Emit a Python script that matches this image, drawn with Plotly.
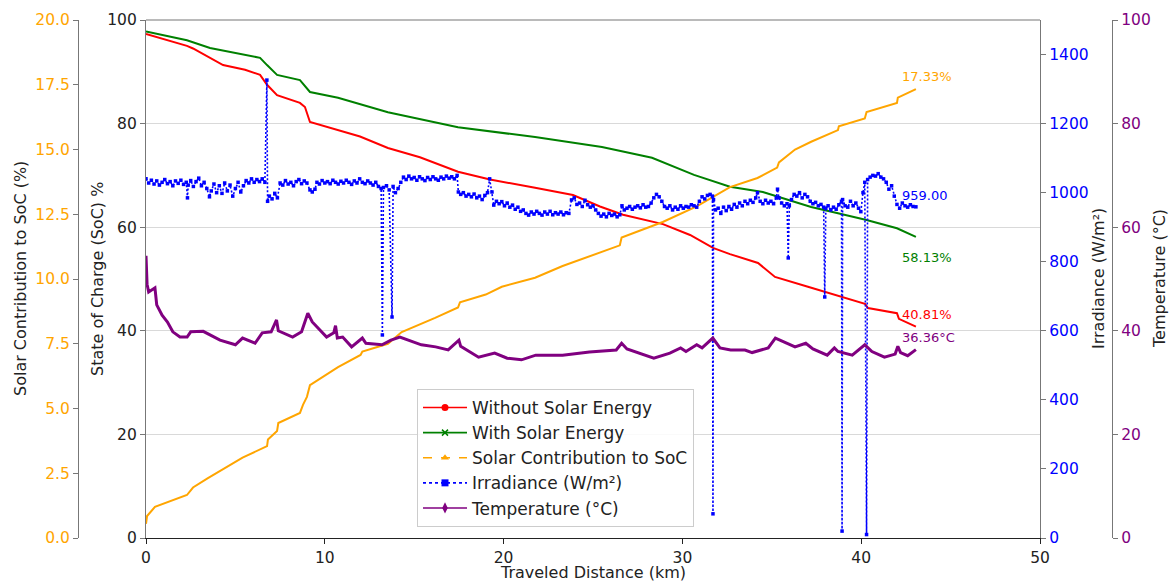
import plotly.graph_objects as go

# ---------------- data ----------------
red_km = [0, 2.29, 2.63, 4.31, 5.54, 6.38, 6.77, 7.33, 8.61, 8.89, 9.17, 10.74, 11.97, 13.53,
          15.32, 17.45, 19.24, 21.76, 23.88, 25.39, 26.68, 28.91, 30.43, 31.71, 32.66, 34.23,
          35.18, 37.02, 38.93, 40.21, 40.38, 42.0, 42.11, 43.06]
without_solar = [97.3, 95.0, 94.5, 91.3, 90.4, 89.4, 87.5, 85.5, 84.0, 83.2, 80.3, 78.8, 77.5, 75.3,
                 73.5, 70.7, 69.2, 67.6, 66.2, 64.0, 62.4, 60.6, 58.5, 56.0, 54.8, 53.1,
                 50.4, 48.5, 46.5, 45.2, 44.4, 43.4, 42.3, 40.81]

green_km = [0, 2.29, 3.58, 5.1, 6.38, 6.77, 7.33, 8.61, 9.17, 10.74, 13.53, 17.45, 21.76, 25.5,
            28.3, 30.65, 32.66, 34.5, 37.2, 38.7, 40.3, 42.0, 43.06]
with_solar = [97.8, 96.1, 94.6, 93.6, 92.7, 91.3, 89.4, 88.4, 86.1, 85.0, 82.2, 79.3, 77.4, 75.5,
              73.4, 70.1, 67.8, 66.8, 63.9, 62.7, 61.4, 59.8, 58.13]

solar_km = [0, 0.06, 0.5, 2.29, 2.63, 3.44, 5.4, 6.38, 6.77, 6.82, 7.33, 7.4, 8.61, 8.78, 9.0,
            9.17, 10.74, 12.0, 12.1, 13.53, 14.3, 16.17, 17.45, 17.56, 19.0, 19.9, 21.76, 23.3,
            26.5, 26.6, 28.9, 30.8, 32.66, 34.2, 35.3, 35.4, 36.3, 37.2, 38.7, 38.75, 40.2,
            40.3, 42.0, 42.05, 43.06]
solar_contrib = [0.55, 0.85, 1.2, 1.66, 1.95, 2.3, 3.1, 3.4, 3.55, 3.8, 4.13, 4.44, 4.83, 5.14, 5.45,
                 5.9, 6.6, 7.07, 7.2, 7.5, 7.95, 8.5, 8.9, 9.1, 9.4, 9.7, 10.05, 10.5,
                 11.3, 11.6, 12.2, 12.8, 13.55, 13.9, 14.3, 14.5, 15.0, 15.3, 15.75, 15.9, 16.2,
                 16.45, 16.8, 17.0, 17.33]

temp_km = [0, 0.06, 0.15, 0.5, 0.6, 0.9, 1.2, 1.5, 1.9, 2.3, 2.5, 3.2, 4.14, 5.0, 5.4, 6.1, 6.5,
           7.0, 7.3, 7.4, 8.2, 8.7, 9.05, 9.3, 10.1, 10.5, 10.6, 10.7, 11.0, 11.5, 12.1, 12.3,
           13.2, 13.7, 14.2, 15.4, 16.2, 16.9, 17.5, 17.6, 18.6, 19.5, 20.2, 21.0, 21.8, 23.3,
           24.8, 26.3, 26.6, 26.9, 28.4, 29.3, 29.9, 30.2, 30.8, 31.1, 31.7, 32.1, 32.7, 33.5,
           33.9, 34.8, 35.2, 36.3, 36.9, 37.3, 38.1, 38.5, 38.7, 39.5, 40.2, 40.6, 41.3, 41.9,
           42.05, 42.2, 42.6, 43.06]
temperature = [54.5, 49.0, 47.5, 48.3, 45.0, 43.0, 41.7, 39.8, 38.8, 38.8, 39.8, 39.9, 38.2, 37.3,
               38.6, 37.6, 39.6, 39.8, 42.1, 40.0, 38.8, 39.8, 43.4, 41.7, 38.8, 39.6, 41.0, 38.6,
               38.8, 36.9, 38.6, 37.6, 37.3, 38.2, 38.8, 37.3, 36.9, 36.3, 38.2, 37.0, 34.9, 35.7,
               34.7, 34.4, 35.3, 35.3, 35.9, 36.3, 37.6, 36.5, 34.7, 35.7, 36.7, 36.0, 37.3, 36.7,
               38.6, 36.7, 36.3, 36.3, 35.8, 36.7, 38.6, 36.9, 37.6, 36.5, 35.3, 36.7, 36.0, 35.3,
               37.3, 36.0, 34.9, 35.5, 37.0, 35.8, 35.2, 36.36]

irr_km = [0.00, 0.15, 0.30, 0.45, 0.60, 0.75, 0.90, 1.05, 1.20, 1.35, 1.50, 1.65, 1.80, 1.95, 2.10,
          2.25, 2.32, 2.36, 2.50, 2.65, 2.80, 2.95, 3.10, 3.25, 3.40, 3.55, 3.65, 3.80, 3.95, 4.10,
          4.25, 4.40, 4.55, 4.70, 4.85, 5.00, 5.15, 5.30, 5.45, 5.60, 5.75, 5.90, 6.05, 6.20, 6.35,
          6.50, 6.65, 6.76, 6.80, 6.90, 7.05, 7.20, 7.35, 7.50, 7.65, 7.80, 7.95, 8.10, 8.25, 8.40,
          8.55, 8.70, 8.85, 9.00, 9.17, 9.30, 9.45, 9.56, 9.70, 9.85, 10.00, 10.15, 10.30, 10.45,
          10.60, 10.75, 10.90, 11.05, 11.20, 11.35, 11.50, 11.65, 11.80, 11.95, 12.10, 12.25,
          12.40, 12.55, 12.70, 12.85, 13.00, 13.15, 13.22, 13.28, 13.45, 13.60, 13.76, 13.82,
          13.95, 14.10, 14.25, 14.40, 14.55, 14.70, 14.85, 15.00, 15.15, 15.30, 15.45, 15.60,
          15.75, 15.90, 16.05, 16.20, 16.35, 16.50, 16.65, 16.80, 16.95, 17.10, 17.25, 17.40,
          17.47, 17.60, 17.75, 17.90, 18.05, 18.20, 18.35, 18.50, 18.65, 18.80, 18.95, 19.10,
          19.22, 19.35, 19.45, 19.60, 19.75, 19.90, 20.05, 20.20, 20.35, 20.50, 20.65, 20.80,
          20.95, 21.10, 21.25, 21.40, 21.55, 21.70, 21.85, 22.00, 22.15, 22.30, 22.45, 22.60,
          22.75, 22.90, 23.05, 23.20, 23.35, 23.50, 23.65, 23.80, 23.95, 24.10, 24.25, 24.40,
          24.55, 24.70, 24.85, 25.00, 25.15, 25.30, 25.45, 25.60, 25.75, 25.90, 26.05, 26.20,
          26.35, 26.50, 26.62, 26.75, 26.90, 27.05, 27.20, 27.35, 27.50, 27.65, 27.80, 27.95,
          28.10, 28.25, 28.40, 28.55, 28.70, 28.85, 29.00, 29.15, 29.30, 29.45, 29.60, 29.75,
          29.90, 30.05, 30.20, 30.35, 30.50, 30.65, 30.80, 30.95, 31.10, 31.25, 31.40, 31.55,
          31.68, 31.71, 31.74, 31.85, 32.00, 32.15, 32.30, 32.45, 32.60, 32.75, 32.90, 33.05,
          33.20, 33.35, 33.50, 33.65, 33.80, 33.95, 34.10, 34.20, 34.35, 34.50, 34.65, 34.80,
          34.95, 35.10, 35.25, 35.32, 35.40, 35.55, 35.70, 35.85, 35.92, 35.98, 36.10, 36.25,
          36.40, 36.55, 36.70, 36.85, 37.00, 37.15, 37.30, 37.45, 37.60, 37.75, 37.90, 37.96,
          38.02, 38.15, 38.30, 38.45, 38.60, 38.75, 38.90, 38.93, 38.96, 39.10, 39.25, 39.40,
          39.55, 39.70, 39.85, 39.98, 40.10, 40.20, 40.30, 40.36, 40.50, 40.65, 40.80, 40.95,
          41.10, 41.25, 41.40, 41.55, 41.70, 41.85, 42.00, 42.15, 42.30, 42.45, 42.60, 42.75,
          42.90, 43.06]
irradiance = [1040, 1028, 1036, 1025, 1034, 1022, 1030, 1038, 1026, 1032, 1020, 1034, 1027, 1036, 1024,
              1030, 985, 1022, 1035, 1018, 1032, 1042, 1020, 1030, 1012, 988, 1005, 1025, 1000, 1020,
              998, 1028, 1005, 1022, 990, 1012, 1030, 1002, 1020, 1035, 1028, 1040, 1030, 1038, 1032,
              1040, 1030, 1326, 975, 990, 982, 998, 985, 1028, 1022, 1035, 1025, 1030, 1020, 1032,
              1038, 1026, 1034, 1028, 1008, 1002, 1010, 1030, 1025, 1035, 1028, 1032, 1026, 1036,
              1030, 1025, 1033, 1028, 1036, 1030, 1024, 1034, 1028, 1040, 1030, 1026,
              1034, 1028, 1022, 1030, 1018, 1012, 588, 1015, 1020, 1008, 640, 1018,
              1000, 1012, 1030, 1045, 1038, 1048, 1040, 1044, 1036, 1046, 1040, 1035,
              1044, 1038, 1046, 1040, 1036, 1045, 1040, 1048, 1042, 1046, 1040, 1050,
              1002, 995, 1000, 990, 995, 988, 996, 985, 990, 980, 992, 1000,
              1040, 1002, 964, 975, 968, 974, 962, 970, 958, 964, 952, 958,
              946, 950, 940, 935, 944, 938, 946, 940, 935, 944, 938, 946,
              936, 942, 938, 944, 936, 942, 940, 979, 985, 966, 970, 960,
              978, 965, 958, 962, 950, 940, 932, 938, 930, 940, 934, 938,
              930, 936, 962, 950, 955, 960, 952, 958, 962, 956, 965, 958,
              960, 970, 985, 995, 988, 975, 960, 955, 962, 950, 958, 952,
              962, 955, 960, 958, 965, 962, 958, 975, 988, 982, 992, 995,
              990, 70, 980, 950, 955, 940, 958, 948, 960, 952, 966, 958,
              970, 962, 975, 968, 978, 972, 985, 1000, 975, 968, 978, 970,
              975, 968, 985, 1010, 985, 970, 962, 968, 811, 962, 980, 995,
              990, 1000, 985, 995, 988, 975, 968, 972, 962, 966, 958, 698,
              955, 962, 950, 958, 952, 965, 975, 20, 980, 962, 958, 975,
              962, 970, 955, 945, 1000, 1030, 10, 1038, 1045, 1050, 1048, 1055,
              1045, 1040, 1030, 1010, 1020, 990, 966, 955, 970, 962, 958, 965,
              960, 959]

end_labels = ["17.33%", "58.13%", "40.81%", "36.36°C", "959.00"]
legend_names = ["Without Solar Energy", "With Solar Energy", "Solar Contribution to SoC",
                "Irradiance (W/m²)", "Temperature (°C)"]
x_ticks = [0, 10, 20, 30, 40, 50]

# ---------------- layout geometry ----------------
W, H = 1169, 581
ML, MR, MT, MB = 30, 24, 20, 43
PW = W - ML - MR
PH = H - MT - MB


def px_x(p):
    return (p - ML) / PW


def px_y(p):
    return (H - MB - p) / PH


RED, GREEN, ORANGE, BLUE, PURPLE = "#FF0000", "#008000", "#FFA500", "#0000FF", "#800080"
FONT = "DejaVu Sans"
TXT = "#222222"
AXC = "#777777"
TICK = 15.5

fig = go.Figure()

fig.add_trace(go.Scatter(x=red_km, y=without_solar, mode="lines", line=dict(color=RED, width=2),
                         showlegend=False, yaxis="y"))
fig.add_trace(go.Scatter(x=green_km, y=with_solar, mode="lines", line=dict(color=GREEN, width=2),
                         showlegend=False, yaxis="y"))
fig.add_trace(go.Scatter(x=solar_km, y=solar_contrib, mode="lines", line=dict(color=ORANGE, width=2),
                         showlegend=False, yaxis="y2"))
fig.add_trace(go.Scatter(x=irr_km, y=irradiance, mode="lines+markers",
                         line=dict(color=BLUE, width=1.6, dash="2px,2px"),
                         marker=dict(symbol="square", size=3.5, color=BLUE),
                         showlegend=False, yaxis="y3"))
fig.add_trace(go.Scatter(x=temp_km, y=temperature, mode="lines", line=dict(color=PURPLE, width=3),
                         showlegend=False, yaxis="y4"))

# legend entries
leg_styles = [
    (RED, "solid", "circle", 7),
    (GREEN, "solid", "x-thin", 6),
    (ORANGE, "dash", "triangle-up", 7),
    (BLUE, "dot", "square", 7),
    (PURPLE, "solid", "diamond-tall", 8),
]
for i, (name, (c, d, s, sz)) in enumerate(zip(legend_names, leg_styles)):
    mk = dict(symbol=s, size=sz, color=c)
    if s == "x-thin":
        mk["line"] = dict(color=c, width=1.5)
    fig.add_trace(go.Scatter(x=[None], y=[None], mode="lines+markers", name=name,
                             line=dict(color=c, dash=d, width=1.6), marker=mk,
                             legendgroup=f"g{i}", showlegend=True))

xd0, xd1 = px_x(146), px_x(1040)

fig.update_layout(
    width=W, height=H,
    margin=dict(l=ML, r=MR, t=MT, b=MB),
    paper_bgcolor="white", plot_bgcolor="white",
    font=dict(family=FONT, size=TICK, color=TXT),
    showlegend=True,
    legend=dict(x=px_x(417), y=px_y(527), xanchor="left", yanchor="bottom",
                bgcolor="rgba(255,255,255,0.85)", bordercolor="#cccccc", borderwidth=1,
                font=dict(family=FONT, size=17, color=TXT), tracegroupgap=0,
                itemwidth=44, entrywidth=256, entrywidthmode="pixels"),
    xaxis=dict(domain=[xd0, xd1], range=[0, 50], tickvals=x_ticks, showgrid=False, zeroline=False,
               showline=True, linecolor="#222222", linewidth=1.2, ticks="outside", ticklen=5,
               tickcolor="#222222", tickfont=dict(size=TICK, color=TXT)),
    yaxis=dict(range=[0, 100], dtick=20, showgrid=True, gridcolor="#d9d9d9", gridwidth=1,
               zeroline=False, showline=True, linecolor=AXC, linewidth=1.2, ticks="outside",
               ticklen=5, tickcolor=AXC, tickfont=dict(size=TICK, color=TXT)),
    yaxis2=dict(range=[0, 20], dtick=2.5, tickformat=".1f", overlaying="y", side="left",
                anchor="free", position=px_x(78), showgrid=False, zeroline=False, showline=True,
                linecolor=AXC, linewidth=1.2, ticks="outside", ticklen=5, tickcolor=AXC,
                tickfont=dict(size=TICK, color=ORANGE)),
    yaxis3=dict(range=[0, 1500], dtick=200, overlaying="y", side="right", anchor="x",
                showgrid=False, zeroline=False, showline=True, linecolor=AXC, linewidth=1.2,
                ticks="outside", ticklen=5, tickcolor=AXC, tickfont=dict(size=TICK, color=BLUE)),
    yaxis4=dict(range=[0, 100], dtick=20, overlaying="y", side="right", anchor="free",
                position=px_x(1112), showgrid=False, zeroline=False, showline=True,
                linecolor=AXC, linewidth=1.2, ticks="outside", ticklen=5, tickcolor=AXC,
                tickfont=dict(size=TICK, color=PURPLE), automargin=False),
)

# top spine
fig.add_shape(type="line", xref="paper", yref="paper", x0=xd0, x1=xd1, y0=1, y1=1,
              line=dict(color=AXC, width=1.2))

ann = []
# axis titles
ann.append(dict(text="Solar Contribution to SoC (%)", x=px_x(20), y=0.5, textangle=-90))
ann.append(dict(text="State of Charge (SoC) %", x=px_x(97), y=0.5, textangle=-90))
ann.append(dict(text="Irradiance (W/m²)", x=px_x(1098), y=0.5, textangle=-90))
ann.append(dict(text="Temperature (°C)", x=px_x(1159), y=0.5, textangle=-90))
ann.append(dict(text="Traveled Distance (km)", x=(xd0 + xd1) / 2, y=px_y(572), textangle=0))
for a in ann:
    fig.add_annotation(xref="paper", yref="paper", showarrow=False, xanchor="center",
                       yanchor="middle", font=dict(family=FONT, size=16, color=TXT), **a)

# end-value labels
lab_x = 42.17
lab_specs = [
    (end_labels[0], "y2", 17.8, ORANGE),
    (end_labels[1], "y", 54.2, GREEN),
    (end_labels[2], "y", 43.2, RED),
    (end_labels[3], "y4", 38.8, PURPLE),
    (end_labels[4], "y3", 993, BLUE),
]
for t, yr, yv, c in lab_specs:
    fig.add_annotation(text=t, x=lab_x, y=yv, xref="x", yref=yr, showarrow=False,
                       xanchor="left", yanchor="middle", font=dict(family=FONT, size=13, color=c))

fig.write_html("out.html", config=dict(displayModeBar=False),
               post_script="document.body.style.margin='0';document.body.style.overflow='hidden';")
